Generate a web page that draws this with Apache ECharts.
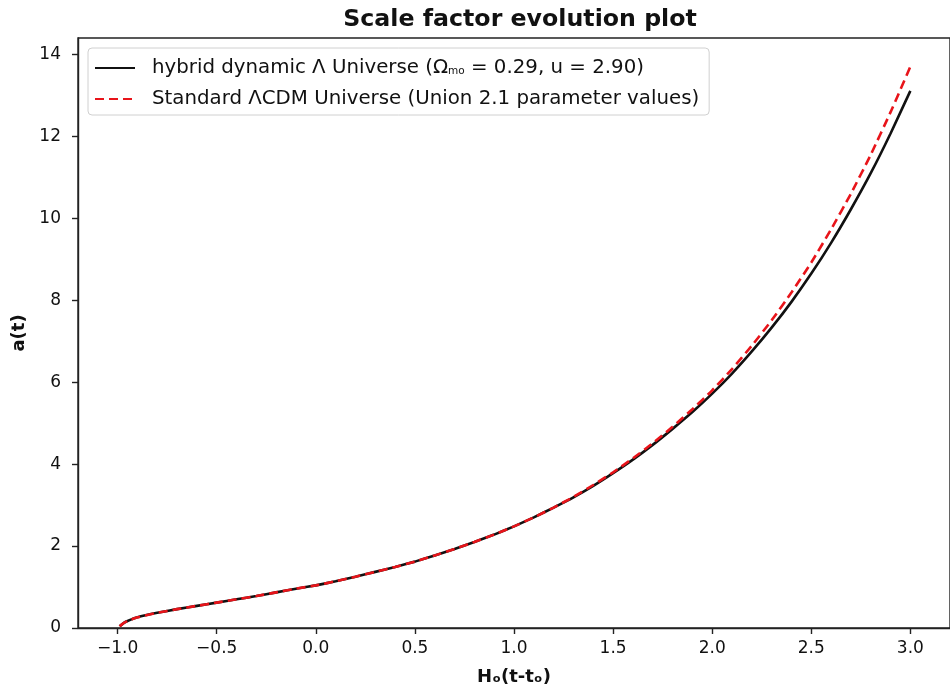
<!DOCTYPE html>
<html>
<head>
<meta charset="utf-8">
<script src="https://cdn.jsdelivr.net/npm/echarts@6/dist/echarts.min.js"></script>
<style>
  html, body { margin: 0; padding: 0; background: #fff; }
  #chart { width: 950px; height: 695px; }
</style>
</head>
<body>
<div id="chart"></div>
<script>
// H0(t - t0): time measured from today in Hubble units
const hTime = [-0.99, -0.97, -0.95, -0.9, -0.8, -0.7, -0.6, -0.5, -0.4, -0.3, -0.2, -0.1,
  0.0, 0.1, 0.2, 0.3, 0.4, 0.5, 0.6, 0.7, 0.8, 0.9, 1.0, 1.1, 1.2, 1.3, 1.4, 1.5, 1.6, 1.7,
  1.8, 1.9, 2.0, 2.1, 2.2, 2.3, 2.4, 2.5, 2.6, 2.7, 2.8, 2.9, 3.0];
// scale factor, hybrid dynamic Lambda model
const aHybrid = [0.04, 0.12, 0.17, 0.26, 0.37, 0.46, 0.54, 0.62, 0.70, 0.78, 0.87, 0.96,
  1.04, 1.14, 1.25, 1.37, 1.49, 1.62, 1.77, 1.93, 2.10, 2.28, 2.48, 2.70, 2.94, 3.19, 3.47, 3.78, 4.11, 4.47,
  4.86, 5.27, 5.72, 6.21, 6.75, 7.33, 7.96, 8.65, 9.40, 10.22, 11.10, 12.07, 13.11];
// scale factor, standard LCDM (Union 2.1)
const aLCDM = [0.04, 0.12, 0.17, 0.26, 0.37, 0.46, 0.54, 0.62, 0.70, 0.78, 0.87, 0.96,
  1.04, 1.14, 1.25, 1.37, 1.49, 1.62, 1.77, 1.93, 2.10, 2.28, 2.48, 2.70, 2.94, 3.20, 3.49, 3.80, 4.14, 4.51,
  4.91, 5.34, 5.80, 6.32, 6.89, 7.51, 8.19, 8.92, 9.73, 10.60, 11.55, 12.59, 13.70];

const xTicks = [-1.0, -0.5, 0.0, 0.5, 1.0, 1.5, 2.0, 2.5, 3.0];
const yTicks = [0, 2, 4, 6, 8, 10, 12, 14];

const seriesNames = ['hybrid', 'lcdm'];
const legendLabels = {
  hybrid: 'hybrid dynamic Λ Universe (Ω{sub|mo} = 0.29, u = 2.90)',
  lcdm: 'Standard ΛCDM Universe (Union 2.1 parameter values)'
};

const pairs = (xs, ys) => xs.map((x, i) => [x, ys[i]]);
const FONT = 'DejaVu Sans';

const chart = echarts.init(document.getElementById('chart'), null, { renderer: 'canvas' });

chart.setOption({
  animation: false,
  backgroundColor: '#ffffff',
  grid: {
    left: 78, top: 38, width: 887, height: 590,
    show: true, borderColor: '#222', borderWidth: 1.4, backgroundColor: 'transparent'
  },
  graphic: [{
    type: 'text', x: 520, y: 20,
    style: {
      text: 'Scale factor evolution plot',
      font: 'bold 23.7px "DejaVu Sans"', fill: '#111',
      textAlign: 'center', textVerticalAlign: 'middle'
    }
  }],
  legend: {
    orient: 'vertical',
    left: 88, top: 48,
    data: seriesNames,
    formatter: n => legendLabels[n],
    itemWidth: 40, itemHeight: 14, itemGap: 11,
    padding: [10, 10, 6, 6],
    backgroundColor: '#fff',
    borderColor: '#d0d0d0', borderWidth: 1, borderRadius: 4,
    itemStyle: { opacity: 0 },
    textStyle: {
      fontFamily: FONT, fontSize: 19.8, color: '#111', padding: [0, 0, 0, 12],
      rich: { sub: { fontFamily: FONT, fontSize: 10.5, color: '#111', padding: [7, 0, 0, 0] } }
    }
  },
  xAxis: {
    type: 'value', min: -1.2, max: 3.2,
    name: 'Hₒ(t-tₒ)', nameLocation: 'middle', nameGap: 40,
    nameTextStyle: { fontFamily: FONT, fontSize: 18, fontWeight: 'bold', color: '#111' },
    axisLine: { show: true, onZero: false, lineStyle: { color: '#222', width: 1.4 } },
    axisTick: { show: true, inside: false, length: 6, customValues: xTicks, lineStyle: { color: '#222', width: 1.4 } },
    axisLabel: {
      customValues: xTicks, margin: 12,
      fontFamily: FONT, fontSize: 17, color: '#111',
      formatter: v => v.toFixed(1).replace('-', '\u2212')
    },
    splitLine: { show: false }
  },
  yAxis: {
    type: 'value', min: 0, max: 14.4,
    name: 'a(t)', nameLocation: 'middle', nameGap: 36, nameRotate: 90,
    nameTextStyle: { fontFamily: FONT, fontSize: 18, fontWeight: 'bold', color: '#111' },
    axisLine: { show: true, onZero: false, lineStyle: { color: '#222', width: 1.4 } },
    axisTick: { show: true, inside: false, length: 6, customValues: yTicks, lineStyle: { color: '#222', width: 1.4 } },
    axisLabel: {
      customValues: yTicks, margin: 17,
      fontFamily: FONT, fontSize: 17, color: '#111',
      formatter: v => String(v)
    },
    splitLine: { show: false }
  },
  series: [
    {
      name: 'hybrid', type: 'line', data: pairs(hTime, aHybrid),
      showSymbol: false, symbol: 'none', smooth: 0.15,
      lineStyle: { color: '#111', width: 2.6, type: 'solid' },
      itemStyle: { color: '#111' }, z: 2
    },
    {
      name: 'lcdm', type: 'line', data: pairs(hTime, aLCDM),
      showSymbol: false, symbol: 'none', smooth: 0.15,
      lineStyle: { color: '#e8141a', width: 2.6, type: [9, 5] },
      itemStyle: { color: '#e8141a' }, z: 3
    }
  ]
});
</script>
</body>
</html>
